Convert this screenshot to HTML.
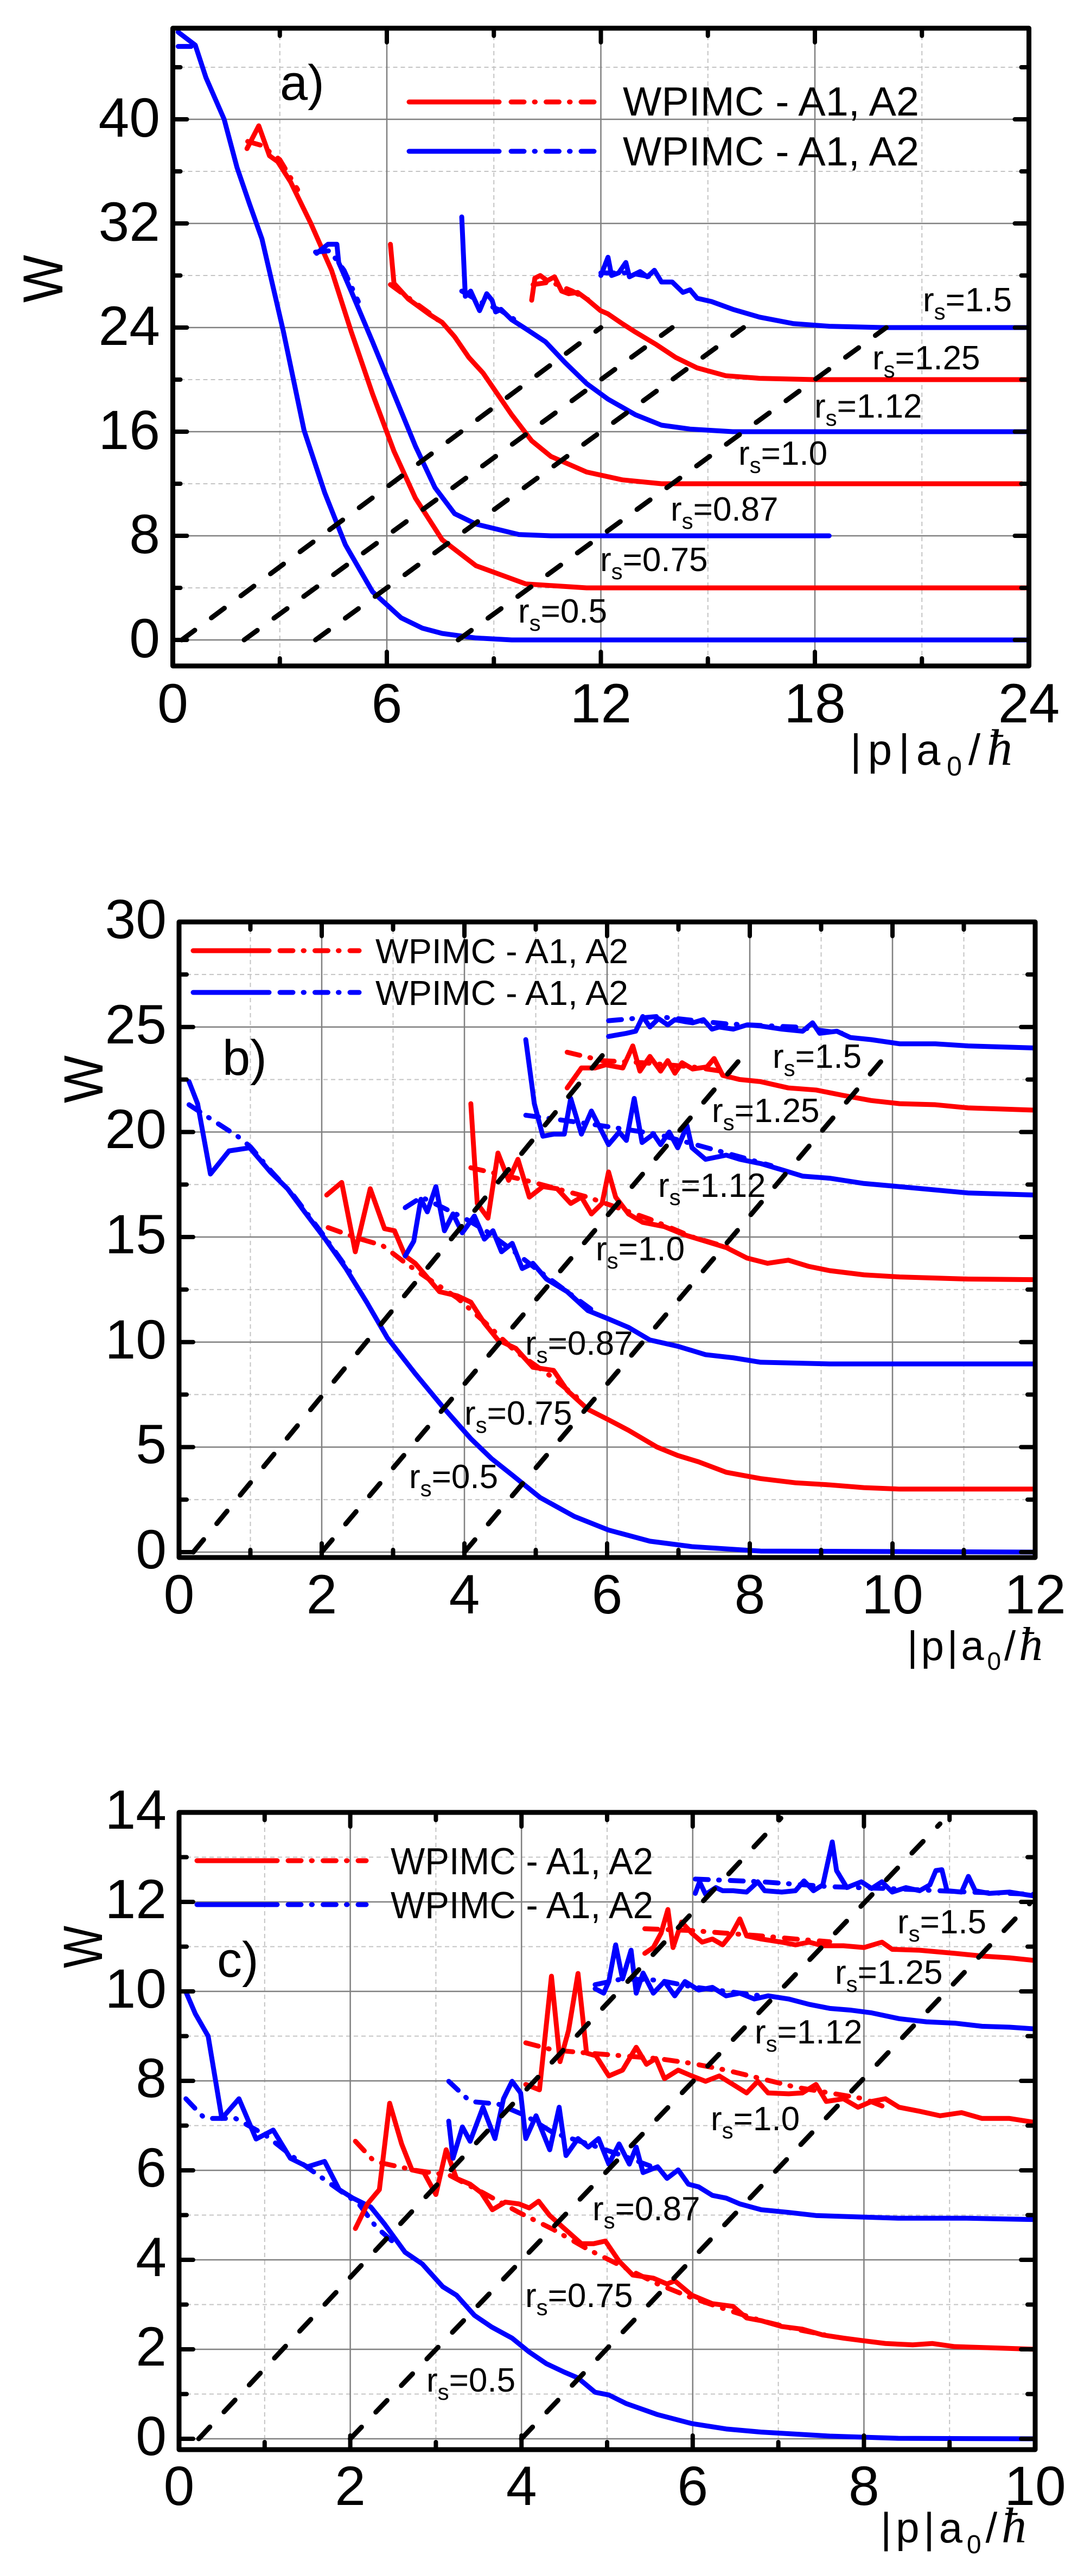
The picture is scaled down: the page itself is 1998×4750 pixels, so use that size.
<!DOCTYPE html>
<html><head><meta charset="utf-8"><style>
html,body{margin:0;padding:0;background:#fff}
svg{display:block}
text{font-family:"Liberation Sans",Arial,sans-serif;fill:#000}
.s{fill:none;stroke-width:9;stroke-linejoin:round;stroke-linecap:round;vector-effect:non-scaling-stroke}
.d{stroke-dasharray:24 19 1.5 20}
.r{stroke:#ff0000}.b{stroke:#0000ff}
.gM{stroke:#808080;stroke-width:2.5;fill:none}
.gm{stroke:#c4c4c4;stroke-width:2;stroke-dasharray:8 6;fill:none}
.k{stroke:#000;stroke-width:9;fill:none;stroke-dasharray:30 38;stroke-linecap:round}
.fr{fill:none;stroke:#000;stroke-width:9;stroke-linejoin:round}
.tk{stroke:#000;stroke-width:8;stroke-linecap:round;fill:none}
.tm{font-size:102px;text-anchor:middle}
.te{font-size:102px;text-anchor:end}
.rs{font-size:62px}
.pl{font-size:92px}
</style></head><body>
<svg width="1998" height="4750" viewBox="0 0 1998 4750" xmlns="http://www.w3.org/2000/svg">
<rect width="1998" height="4750" fill="#fff"/>

<!-- ================= PANEL A ================= -->
<path class="gm" d="M515.75,52V1228 M910.25,52V1228 M1304.75,52V1228 M1699.25,52V1228 M318.5,1084H1896.5 M318.5,892H1896.5 M318.5,700H1896.5 M318.5,508H1896.5 M318.5,316H1896.5 M318.5,124H1896.5"/>
<path class="gM" d="M713,52V1228 M1107.5,52V1228 M1502,52V1228 M318.5,1180H1896.5 M318.5,988H1896.5 M318.5,796H1896.5 M318.5,604H1896.5 M318.5,412H1896.5 M318.5,220H1896.5"/>

<g transform="matrix(65.75,0,0,-24,318.5,1180)">
<polyline class="s b d" points="0.15,45.6 0.6,45.6"/>
<polyline class="s b" points="0.15,46.7 0.63,45.7 0.93,43.2 1.44,40 1.8,36.3 2.15,33.5 2.5,30.8 3.1,23.7 3.68,16.1 4.26,11.3 4.84,7.3 5.6,3.7 6.4,1.7 7.0,0.9 7.55,0.5 8.5,0.15 9.5,0 24,0"/>
<polyline class="s r d" points="2.1,38.3 2.48,38.0 3.0,36.9 3.5,34.6"/>
<polyline class="s r" points="2.08,37.75 2.41,39.5 2.71,37.2 2.94,36.75 3.3,35.2 3.87,32 4.45,28.4 5.0,23.7 5.6,18.9 6.2,14.5 6.8,10.9 7.55,7.7 8.5,5.7 9.9,4.3 11.6,4.0 24,4"/>
<polyline class="s b d" points="4.0,29.8 4.4,29.9 4.8,28.4 5.2,26.0"/>
<polyline class="s b" points="4.03,29.7 4.35,30.4 4.6,30.4 4.65,29 5.0,26.8 5.6,22.9 6.2,18.9 6.8,14.9 7.35,11.7 7.9,9.7 8.5,8.9 9.7,8.1 10.6,8.0 18.4,8.0"/>
<polyline class="s r d" points="6.1,27.3 6.6,26.3 7.2,25.1 7.6,24.2"/>
<polyline class="s r" points="6.1,30.4 6.2,27.4 6.6,26.2 7.2,25.0 7.55,24.4 7.9,23.3 8.3,21.7 8.7,20.5 9.1,18.9 9.5,17.3 10.06,15.3 10.6,14.1 11.6,12.9 12.6,12.3 13.7,12.0 23.8,12.0"/>
<polyline class="s b d" points="8.1,26.8 8.6,26.0 9.2,25.3 9.7,24.4"/>
<polyline class="s b" points="8.1,32.5 8.2,26.4 8.35,26.8 8.45,26.2 8.6,25.3 8.8,26.6 8.95,26.1 9.05,25.2 9.2,25.4 9.5,24.6 9.9,23.9 10.45,22.9 11.0,21.3 11.6,19.7 12.2,18.5 12.97,17.3 13.7,16.5 14.5,16.2 15.7,16.0 24,16"/>
<polyline class="s r d" points="10.1,27.3 10.6,27.5 11.2,26.8 11.8,25.9"/>
<polyline class="s r" points="10.06,26.1 10.15,27.8 10.3,28.0 10.5,27.6 10.7,27.9 10.9,26.8 11.1,26.6 11.35,26.7 11.6,26.2 11.99,25.3 12.2,25.05 12.6,24.3 12.97,23.65 13.55,22.7 14.1,21.7 14.7,20.9 15.5,20.3 16.45,20.1 18,20.0 24,20"/>
<polyline class="s b d" points="12.0,28.2 12.8,28.2 13.6,27.8"/>
<polyline class="s b" points="12.0,28.0 12.2,29.4 12.3,28.0 12.5,28.2 12.7,29.0 12.8,27.9 13.1,28.3 13.3,27.9 13.5,28.4 13.7,27.5 14.0,27.5 14.3,26.7 14.5,26.9 14.7,26.25 15.1,26.0 15.7,25.4 16.45,24.8 17.4,24.3 18.4,24.1 19.9,24.0 24,24"/>
</g>

<path class="k" d="M335,1180L1107.5,604 M450,1180L1239,604 M581.5,1180L1370.5,604 M844.5,1180L1633.5,604"/>

<rect class="fr" x="318.5" y="52" width="1578" height="1176"/>
<path class="tk" d="M713,1228V1202 M1107.5,1228V1202 M1502,1228V1202 M515.75,1228V1214 M910.25,1228V1214 M1304.75,1228V1214 M1699.25,1228V1214
M713,52V78 M1107.5,52V78 M1502,52V78 M515.75,52V66 M910.25,52V66 M1304.75,52V66 M1699.25,52V66
M318.5,1180H344.5 M318.5,988H344.5 M318.5,796H344.5 M318.5,604H344.5 M318.5,412H344.5 M318.5,220H344.5 M318.5,1084H332.5 M318.5,892H332.5 M318.5,700H332.5 M318.5,508H332.5 M318.5,316H332.5 M318.5,124H332.5
M1896.5,1180H1870.5 M1896.5,988H1870.5 M1896.5,796H1870.5 M1896.5,604H1870.5 M1896.5,412H1870.5 M1896.5,220H1870.5 M1896.5,1084H1882.5 M1896.5,892H1882.5 M1896.5,700H1882.5 M1896.5,508H1882.5 M1896.5,316H1882.5 M1896.5,124H1882.5"/>

<text class="te" x="295" y="1212">0</text>
<text class="te" x="295" y="1020">8</text>
<text class="te" x="295" y="828">16</text>
<text class="te" x="295" y="636">24</text>
<text class="te" x="295" y="444">32</text>
<text class="te" x="295" y="252">40</text>
<text class="tm" x="318.5" y="1332">0</text>
<text class="tm" x="713" y="1332">6</text>
<text class="tm" x="1107.5" y="1332">12</text>
<text class="tm" x="1502" y="1332">18</text>
<text class="tm" x="1896.5" y="1332">24</text>

<text transform="translate(115,514) rotate(-90)" text-anchor="middle" font-size="104" textLength="88" lengthAdjust="spacingAndGlyphs">W</text>
<text x="1567" y="1410" font-size="80" textLength="299" lengthAdjust="spacing">|p|a<tspan font-size="50" dy="20">0</tspan><tspan dy="-20">/</tspan><tspan font-family="Liberation Serif, serif" font-style="italic" font-size="94">ħ</tspan></text>
<text class="pl" x="516" y="184">a)</text>

<polyline class="s r" points="754,188 920,188"/>
<polyline class="s r d" points="942,188 1095,188"/>
<polyline class="s b" points="754,279 920,279"/>
<polyline class="s b d" points="942,279 1095,279"/>
<text x="1148" y="213" font-size="75" textLength="546" lengthAdjust="spacingAndGlyphs">WPIMC - A1, A2</text>
<text x="1148" y="305" font-size="75" textLength="546" lengthAdjust="spacingAndGlyphs">WPIMC - A1, A2</text>

<text class="rs" x="1701" y="574">r<tspan font-size="42" dy="15">s</tspan><tspan dy="-15">=1.5</tspan></text>
<text class="rs" x="1608" y="681">r<tspan font-size="42" dy="15">s</tspan><tspan dy="-15">=1.25</tspan></text>
<text class="rs" x="1501" y="770">r<tspan font-size="42" dy="15">s</tspan><tspan dy="-15">=1.12</tspan></text>
<text class="rs" x="1361" y="857">r<tspan font-size="42" dy="15">s</tspan><tspan dy="-15">=1.0</tspan></text>
<text class="rs" x="1236" y="960">r<tspan font-size="42" dy="15">s</tspan><tspan dy="-15">=0.87</tspan></text>
<text class="rs" x="1106" y="1053">r<tspan font-size="42" dy="15">s</tspan><tspan dy="-15">=0.75</tspan></text>
<text class="rs" x="955" y="1148">r<tspan font-size="42" dy="15">s</tspan><tspan dy="-15">=0.5</tspan></text>

<!-- ================= PANEL B ================= -->
<path class="gm" d="M461.5,1700V2872 M724.5,1700V2872 M987.5,1700V2872 M1250.5,1700V2872 M1513.5,1700V2872 M1776.5,1700V2872 M330,2765.2H1908 M330,2571.5H1908 M330,2377.9H1908 M330,2184.2H1908 M330,1990.6H1908 M330,1796.9H1908"/>
<path class="gM" d="M593,1700V2872 M856,1700V2872 M1119,1700V2872 M1382,1700V2872 M1645,1700V2872 M330,2862H1908 M330,2668.35H1908 M330,2474.7H1908 M330,2281H1908 M330,2087.4H1908 M330,1893.75H1908"/>

<g transform="matrix(131.5,0,0,-38.73,330,2862)">
<polyline class="s b d" points="0.14,21.3 0.5,20.5 0.82,19.8 1.0,19.3 1.3,18.1 1.6,17.0 2.0,15.2 2.4,13.3"/>
<polyline class="s b" points="0.14,22.4 0.26,21.35 0.44,18.0 0.7,19.1 0.99,19.25 1.13,18.7 1.28,18.1 1.52,17.3 1.76,16.2 2.05,14.9 2.34,13.5 2.63,11.9 2.92,10.2 3.31,8.5 3.7,6.9 4.09,5.4 4.38,4.45 4.67,3.67 5.06,2.6 5.54,1.7 6.02,1.05 6.6,0.52 7.19,0.26 8.15,0.05 12,0.0"/>
<polyline class="s r d" points="2.09,15.45 2.5,14.95 2.85,14.6 3.2,13.7 3.5,13.0 3.9,12.1 4.3,10.9 4.7,9.6 5.2,8.4 5.6,7.3"/>
<polyline class="s r" points="2.07,17.0 2.28,17.6 2.47,14.3 2.68,17.3 2.88,15.4 3.02,15.3 3.17,14.1 3.31,13.75 3.5,13.0 3.65,12.4 3.9,12.2 4.09,11.9 4.28,10.9 4.47,10.1 4.72,9.7 4.96,8.8 5.25,8.65 5.44,7.7 5.73,6.8 6.02,6.3 6.3,5.8 6.7,5.0 6.99,4.6 7.28,4.3 7.67,3.8 8.15,3.5 8.64,3.3 9.12,3.2 9.6,3.07 10.1,3.0 12,3.0"/>
<polyline class="s b d" points="3.17,16.4 3.4,16.9 3.7,16.4 4.0,15.9 4.3,15.3 4.7,14.3 5.0,13.5 5.4,12.5 5.8,11.5"/>
<polyline class="s b" points="3.17,14.1 3.29,14.8 3.39,16.8 3.48,16.2 3.6,17.4 3.72,15.3 3.84,16.1 3.97,15.2 4.14,16.0 4.28,14.9 4.4,15.3 4.52,14.3 4.67,14.7 4.81,13.5 4.96,13.75 5.15,13.0 5.44,12.4 5.73,11.5 6.02,11.1 6.3,10.7 6.6,10.1 6.99,9.8 7.38,9.4 7.77,9.25 8.15,9.04 9.12,8.96 12,8.96"/>
<polyline class="s r d" points="4.09,18.3 4.86,17.7 5.73,16.9 6.6,15.85 7.2,15.0 7.8,14.4"/>
<polyline class="s r" points="4.09,21.35 4.18,16.6 4.33,15.9 4.47,19.0 4.62,17.7 4.75,18.7 4.91,16.9 5.1,17.4 5.3,17.3 5.49,16.6 5.64,16.9 5.78,16.1 5.93,16.6 6.02,18.1 6.12,16.9 6.3,16.1 6.5,15.7 6.8,15.5 7.09,15.1 7.38,14.8 7.67,14.5 7.96,14.0 8.25,13.75 8.54,13.9 8.83,13.6 9.12,13.4 9.6,13.2 10.1,13.1 11.06,13.0 12,12.97"/>
<polyline class="s b d" points="4.86,20.8 5.73,20.4 6.7,19.9 7.67,19.0 8.3,18.4"/>
<polyline class="s b" points="4.86,24.4 4.98,21.35 5.1,19.8 5.25,19.9 5.4,19.9 5.49,21.6 5.64,19.9 5.78,21.0 6.02,19.4 6.17,20.0 6.27,19.6 6.38,21.6 6.49,19.5 6.65,19.9 6.75,19.4 6.87,20.0 6.99,19.25 7.12,20.3 7.19,19.25 7.38,18.7 7.67,18.9 7.86,18.7 8.15,18.5 8.45,18.2 8.74,17.9 9.12,17.8 9.6,17.55 10.1,17.4 11.06,17.1 12,17.0"/>
<polyline class="s r d" points="5.44,23.8 5.93,23.4 6.5,23.3 7.2,23.1 7.8,22.8"/>
<polyline class="s r" points="5.44,22.1 5.64,23.05 5.83,23.05 5.98,23.2 6.22,23.05 6.36,24.1 6.46,22.9 6.6,23.6 6.75,22.9 6.85,23.4 6.95,22.8 7.05,23.3 7.2,23.0 7.4,23.1 7.5,23.5 7.62,22.7 7.86,22.5 8.15,22.4 8.54,22.1 8.93,22.0 9.3,21.75 9.7,21.5 10.1,21.35 10.6,21.3 11.06,21.15 12,21.04"/>
<polyline class="s b d" points="6.02,25.3 6.7,25.5 7.67,25.15 8.64,25.0 9.3,24.7"/>
<polyline class="s b" points="6.02,24.55 6.27,24.7 6.4,24.8 6.5,25.5 6.6,25.0 6.72,25.4 6.85,25.1 6.95,25.35 7.1,25.25 7.2,25.2 7.35,25.35 7.47,24.9 7.57,25.0 7.77,24.9 7.96,25.1 8.15,25.05 8.45,24.9 8.74,24.8 8.88,25.2 8.98,24.7 9.22,24.8 9.41,24.5 9.7,24.4 10.1,24.2 10.6,24.2 11.06,24.1 12,24.0"/>
</g>

<path class="k" d="M356.3,2862L1121.6,1932.5 M593,2862L1375.4,1940 M856,2862L1638.4,1940"/>

<rect class="fr" x="330" y="1700" width="1578" height="1172"/>
<path class="tk" d="M593,2872V2846 M856,2872V2846 M1119,2872V2846 M1382,2872V2846 M1645,2872V2846 M461.5,2872V2858 M724.5,2872V2858 M987.5,2872V2858 M1250.5,2872V2858 M1513.5,2872V2858 M1776.5,2872V2858
M593,1700V1726 M856,1700V1726 M1119,1700V1726 M1382,1700V1726 M1645,1700V1726 M461.5,1700V1714 M724.5,1700V1714 M987.5,1700V1714 M1250.5,1700V1714 M1513.5,1700V1714 M1776.5,1700V1714
M330,2862H356 M330,2668.35H356 M330,2474.7H356 M330,2281H356 M330,2087.4H356 M330,1893.75H356 M330,2765.2H344 M330,2571.5H344 M330,2377.9H344 M330,2184.2H344 M330,1990.6H344 M330,1796.9H344
M1908,2862H1882 M1908,2668.35H1882 M1908,2474.7H1882 M1908,2281H1882 M1908,2087.4H1882 M1908,1893.75H1882 M1908,2765.2H1894 M1908,2571.5H1894 M1908,2377.9H1894 M1908,2184.2H1894 M1908,1990.6H1894 M1908,1796.9H1894"/>

<text class="te" x="307" y="2892">0</text>
<text class="te" x="307" y="2698">5</text>
<text class="te" x="307" y="2505">10</text>
<text class="te" x="307" y="2311">15</text>
<text class="te" x="307" y="2117">20</text>
<text class="te" x="307" y="1924">25</text>
<text class="te" x="307" y="1730">30</text>
<text class="tm" x="330" y="2975">0</text>
<text class="tm" x="593" y="2975">2</text>
<text class="tm" x="856" y="2975">4</text>
<text class="tm" x="1119" y="2975">6</text>
<text class="tm" x="1382" y="2975">8</text>
<text class="tm" x="1645" y="2975">10</text>
<text class="tm" x="1908" y="2975">12</text>

<text transform="translate(189,1990) rotate(-90)" text-anchor="middle" font-size="102" textLength="88" lengthAdjust="spacingAndGlyphs">W</text>
<text x="1672" y="3061" font-size="76" textLength="250" lengthAdjust="spacing">|p|a<tspan font-size="46" dy="18">0</tspan><tspan dy="-18">/</tspan><tspan font-family="Liberation Serif, serif" font-style="italic" font-size="88">ħ</tspan></text>
<text class="pl" x="410" y="1982">b)</text>

<polyline class="s r" points="356,1753 496,1753"/>
<polyline class="s r d" points="516,1753 662,1753"/>
<polyline class="s b" points="356,1830 496,1830"/>
<polyline class="s b d" points="516,1830 662,1830"/>
<text x="692" y="1776" font-size="64" textLength="466" lengthAdjust="spacingAndGlyphs">WPIMC - A1, A2</text>
<text x="692" y="1853" font-size="64" textLength="466" lengthAdjust="spacingAndGlyphs">WPIMC - A1, A2</text>

<text class="rs" x="1424" y="1969">r<tspan font-size="42" dy="15">s</tspan><tspan dy="-15">=1.5</tspan></text>
<text class="rs" x="1312" y="2069">r<tspan font-size="42" dy="15">s</tspan><tspan dy="-15">=1.25</tspan></text>
<text class="rs" x="1213" y="2207">r<tspan font-size="42" dy="15">s</tspan><tspan dy="-15">=1.12</tspan></text>
<text class="rs" x="1098" y="2324">r<tspan font-size="42" dy="15">s</tspan><tspan dy="-15">=1.0</tspan></text>
<text class="rs" x="968" y="2498">r<tspan font-size="42" dy="15">s</tspan><tspan dy="-15">=0.87</tspan></text>
<text class="rs" x="856" y="2627">r<tspan font-size="42" dy="15">s</tspan><tspan dy="-15">=0.75</tspan></text>
<text class="rs" x="754" y="2744">r<tspan font-size="42" dy="15">s</tspan><tspan dy="-15">=0.5</tspan></text>

<!-- ================= PANEL C ================= -->
<path class="gm" d="M487.8,3342V4517 M803.4,3342V4517 M1119,3342V4517 M1434.6,3342V4517 M1750.2,3342V4517 M330,4414.5H1908 M330,4249.5H1908 M330,4084.5H1908 M330,3919.5H1908 M330,3754.5H1908 M330,3589.5H1908 M330,3424.5H1908"/>
<path class="gM" d="M645.6,3342V4517 M961.2,3342V4517 M1276.8,3342V4517 M1592.4,3342V4517 M330,4497H1908 M330,4332H1908 M330,4167H1908 M330,4002H1908 M330,3837H1908 M330,3672H1908 M330,3507H1908"/>

<g transform="matrix(157.8,0,0,-82.5,330,4497)">
<polyline class="s b d" points="0.08,7.6 0.3,7.16 0.66,7.16 1.0,6.8 1.4,6.2 1.79,5.67 2.1,5.25 2.3,4.74 2.5,4.4"/>
<polyline class="s b" points="0.08,9.99 0.19,9.5 0.34,9.0 0.5,7.16 0.7,7.6 0.9,6.7 1.1,6.9 1.3,6.27 1.5,6.08 1.7,6.2 1.87,5.57 2.03,5.38 2.24,5.18 2.4,4.8 2.64,4.17 2.84,3.91 3.08,3.4 3.24,3.21 3.45,2.76 3.65,2.5 3.89,2.25 4.09,1.94 4.29,1.68 4.5,1.49 4.66,1.36 4.86,1.04 5.02,0.98 5.22,0.79 5.59,0.54 5.99,0.34 6.39,0.22 6.8,0.15 7.6,0.06 8.4,0.01 10,0"/>
<polyline class="s r d" points="2.06,6.65 2.28,6.2 2.76,6.0 3.16,5.89 3.55,5.5 3.97,5.06 4.37,4.68 4.78,4.23 5.18,3.85 5.59,3.46 5.99,3.15 6.39,2.89 6.8,2.64 7.2,2.45 7.6,2.3"/>
<polyline class="s r" points="2.06,4.7 2.2,5.25 2.34,5.57 2.46,7.5 2.6,6.59 2.72,6.01 2.86,5.95 3.0,5.46 3.12,6.46 3.24,5.82 3.4,5.69 3.53,5.5 3.66,5.12 3.81,5.29 3.97,5.25 4.09,5.16 4.2,5.31 4.33,4.99 4.5,4.7 4.7,4.36 4.84,4.36 4.98,4.42 5.14,3.97 5.3,3.66 5.54,3.59 5.7,3.46 5.79,3.53 5.99,3.21 6.23,3.02 6.47,2.96 6.63,2.7 6.8,2.64 7.04,2.51 7.28,2.45 7.52,2.32 7.76,2.25 8.0,2.19 8.25,2.13 8.57,2.1 8.8,2.13 9.06,2.06 9.54,2.03 10,2.0"/>
<polyline class="s b d" points="3.15,7.99 3.4,7.54 3.73,7.48 4.05,7.22 4.37,6.84 4.78,6.59 5.18,6.33 5.5,6.1"/>
<polyline class="s b" points="3.15,7.1 3.2,6.27 3.31,6.97 3.4,6.65 3.55,7.41 3.69,6.71 3.79,7.6 3.89,7.99 3.99,7.73 4.05,6.71 4.17,7.22 4.33,6.46 4.44,7.41 4.52,6.33 4.66,6.71 4.78,6.52 4.9,6.71 5.02,6.14 5.14,6.59 5.26,6.14 5.34,6.52 5.42,5.95 5.59,6.08 5.7,5.82 5.83,6.01 5.95,5.69 6.07,5.63 6.23,5.44 6.39,5.38 6.55,5.25 6.8,5.12 7.12,5.06 7.44,4.99 7.76,4.97 8.4,4.93 9.2,4.93 10,4.9"/>
<polyline class="s r d" points="4.05,8.85 4.37,8.69 4.78,8.62 5.18,8.56 5.59,8.5 5.99,8.39 6.39,8.24 6.8,8.05 7.2,7.86 7.6,7.73 8.0,7.6 8.25,7.41"/>
<polyline class="s r" points="4.05,7.92 4.21,7.8 4.35,10.34 4.45,8.43 4.55,9.13 4.66,10.4 4.76,8.62 4.87,8.56 5.02,8.11 5.18,8.24 5.34,8.75 5.46,8.37 5.57,8.5 5.67,8.05 5.83,8.24 5.99,8.11 6.15,7.99 6.31,8.11 6.47,7.92 6.63,7.73 6.76,7.99 6.88,7.73 7.12,7.71 7.28,7.73 7.44,7.92 7.56,7.54 7.76,7.6 7.93,7.41 8.09,7.54 8.25,7.6 8.41,7.41 8.65,7.32 8.89,7.22 9.14,7.29 9.38,7.16 9.7,7.16 10,7.07"/>
<polyline class="s b d" points="4.86,10.15 5.18,10.28 5.6,10.25 6.0,10.1 6.4,10.0 6.8,9.9"/>
<polyline class="s b" points="4.86,10.06 4.96,9.96 5.02,10.22 5.1,11.04 5.18,10.28 5.28,10.92 5.34,9.96 5.42,10.41 5.54,9.96 5.67,10.22 5.79,9.9 5.91,10.22 6.07,10.03 6.23,10.09 6.39,9.9 6.55,9.96 6.72,9.83 6.88,9.9 7.12,9.83 7.36,9.71 7.6,9.62 7.85,9.58 8.09,9.52 8.41,9.39 8.73,9.32 9.06,9.29 9.38,9.22 9.7,9.2 10,9.16"/>
<polyline class="s r d" points="5.44,11.4 5.99,11.36 6.39,11.3 6.8,11.24 7.2,11.17 7.6,11.11"/>
<polyline class="s r" points="5.44,10.85 5.54,10.98 5.63,11.3 5.71,11.83 5.77,10.98 5.87,11.55 5.99,11.3 6.11,11.1 6.23,11.17 6.35,11.04 6.46,11.3 6.55,11.62 6.63,11.24 6.8,11.17 7.04,11.1 7.2,11.04 7.36,11.1 7.52,11.02 7.76,11.02 8.0,10.98 8.21,11.1 8.33,10.94 8.65,10.92 9.06,10.85 9.38,10.79 9.7,10.75 10,10.69"/>
<polyline class="s b d" points="6.03,12.51 6.8,12.45 7.6,12.34 8.41,12.29 9.22,12.22 10,12.17"/>
<polyline class="s b" points="6.03,12.19 6.08,12.45 6.15,12.17 6.27,12.32 6.35,12.25 6.47,12.25 6.63,12.22 6.76,12.45 6.84,12.25 7.04,12.22 7.2,12.25 7.3,12.47 7.41,12.25 7.52,12.38 7.63,13.34 7.68,12.7 7.8,12.32 7.97,12.45 8.09,12.3 8.21,12.45 8.33,12.22 8.49,12.32 8.65,12.25 8.77,12.38 8.84,12.7 8.91,12.72 8.97,12.25 9.14,12.22 9.22,12.57 9.3,12.25 9.46,12.19 9.7,12.22 9.86,12.17 10,12.13"/>
</g>

<path class="k" d="M366.3,4497L1439.3,3352.7 M645.6,4497L1732.6,3363 M961,4497L1898,3510"/>

<rect class="fr" x="330" y="3342" width="1578" height="1175"/>
<path class="tk" d="M645.6,4517V4491 M961.2,4517V4491 M1276.8,4517V4491 M1592.4,4517V4491 M487.8,4517V4503 M803.4,4517V4503 M1119,4517V4503 M1434.6,4517V4503 M1750.2,4517V4503
M645.6,3342V3368 M961.2,3342V3368 M1276.8,3342V3368 M1592.4,3342V3368 M487.8,3342V3356 M803.4,3342V3356 M1119,3342V3356 M1434.6,3342V3356 M1750.2,3342V3356
M330,4497H356 M330,4332H356 M330,4167H356 M330,4002H356 M330,3837H356 M330,3672H356 M330,3507H356 M330,4414.5H344 M330,4249.5H344 M330,4084.5H344 M330,3919.5H344 M330,3754.5H344 M330,3589.5H344 M330,3424.5H344
M1908,4497H1882 M1908,4332H1882 M1908,4167H1882 M1908,4002H1882 M1908,3837H1882 M1908,3672H1882 M1908,3507H1882 M1908,4414.5H1894 M1908,4249.5H1894 M1908,4084.5H1894 M1908,3919.5H1894 M1908,3754.5H1894 M1908,3589.5H1894 M1908,3424.5H1894"/>

<text class="te" x="307" y="4527">0</text>
<text class="te" x="307" y="4362">2</text>
<text class="te" x="307" y="4197">4</text>
<text class="te" x="307" y="4032">6</text>
<text class="te" x="307" y="3867">8</text>
<text class="te" x="307" y="3702">10</text>
<text class="te" x="307" y="3537">12</text>
<text class="te" x="307" y="3372">14</text>
<text class="tm" x="330" y="4619">0</text>
<text class="tm" x="645.6" y="4619">2</text>
<text class="tm" x="961.2" y="4619">4</text>
<text class="tm" x="1276.8" y="4619">6</text>
<text class="tm" x="1592.4" y="4619">8</text>
<text class="tm" x="1908" y="4619">10</text>

<text transform="translate(188,3590) rotate(-90)" text-anchor="middle" font-size="102" textLength="78" lengthAdjust="spacingAndGlyphs">W</text>
<text x="1623" y="4688" font-size="78" textLength="269" lengthAdjust="spacing">|p|a<tspan font-size="48" dy="20">0</tspan><tspan dy="-20">/</tspan><tspan font-family="Liberation Serif, serif" font-style="italic" font-size="92">ħ</tspan></text>
<text class="pl" x="400" y="3645">c)</text>

<polyline class="s r" points="363,3431 511,3431"/>
<polyline class="s r d" points="531,3431 675,3431"/>
<polyline class="s b" points="363,3512 511,3512"/>
<polyline class="s b d" points="531,3512 675,3512"/>
<text x="720" y="3456" font-size="70" textLength="484" lengthAdjust="spacingAndGlyphs">WPIMC - A1, A2</text>
<text x="720" y="3537" font-size="70" textLength="484" lengthAdjust="spacingAndGlyphs">WPIMC - A1, A2</text>

<text class="rs" x="1654" y="3565">r<tspan font-size="42" dy="15">s</tspan><tspan dy="-15">=1.5</tspan></text>
<text class="rs" x="1539" y="3658">r<tspan font-size="42" dy="15">s</tspan><tspan dy="-15">=1.25</tspan></text>
<text class="rs" x="1391" y="3768">r<tspan font-size="42" dy="15">s</tspan><tspan dy="-15">=1.12</tspan></text>
<text class="rs" x="1310" y="3928">r<tspan font-size="42" dy="15">s</tspan><tspan dy="-15">=1.0</tspan></text>
<text class="rs" x="1092" y="4094">r<tspan font-size="42" dy="15">s</tspan><tspan dy="-15">=0.87</tspan></text>
<text class="rs" x="968" y="4254">r<tspan font-size="42" dy="15">s</tspan><tspan dy="-15">=0.75</tspan></text>
<text class="rs" x="786" y="4410">r<tspan font-size="42" dy="15">s</tspan><tspan dy="-15">=0.5</tspan></text>
</svg>
</body></html>
